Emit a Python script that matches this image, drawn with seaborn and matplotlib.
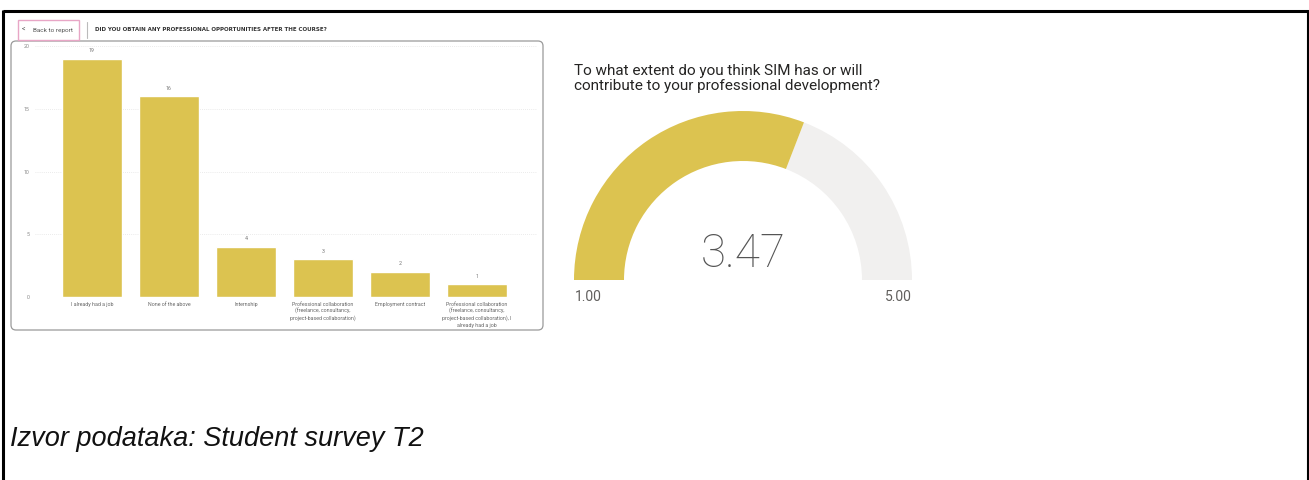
import numpy as np
import matplotlib
matplotlib.use("Agg")
import matplotlib.pyplot as plt
from matplotlib.patches import FancyBboxPatch, Wedge, Rectangle
import seaborn as sns

# ---- data ----
categories = [
    "I already had a job",
    "None of the above",
    "Internship",
    "Professional collaboration\n(freelance, consultancy,\nproject-based collaboration)",
    "Employment contract",
    "Professional collaboration\n(freelance, consultancy,\nproject-based collaboration), I\nalready had a job",
]
counts = [19, 16, 4, 3, 2, 1]
y_ticks = [0, 5, 10, 15, 20]

bar_title = "DID YOU OBTAIN ANY PROFESSIONAL OPPORTUNITIES AFTER THE COURSE?"
gauge_title = "To what extent do you think SIM has or will\ncontribute to your professional development?"
gauge_min = 1.00
gauge_max = 5.00
gauge_value = 3.47
source_text = "Izvor podataka: Student survey T2"

GOLD = "#DCC350"
LIGHT = "#F1F0EF"

W, H = 1309, 480
sns.set_theme(style="white")
plt.rcParams["font.family"] = ["Roboto", "DejaVu Sans"]

fig = plt.figure(figsize=(W / 100, H / 100), dpi=100)
fig.patch.set_facecolor("white")


def fax(x0, y0, x1, y1):
    """pixel box (top-left origin) -> figure axes rect"""
    return [x0 / W, 1 - y1 / H, (x1 - x0) / W, (y1 - y0) / H]


# overlay axes in pixel coords
ov = fig.add_axes([0, 0, 1, 1], zorder=0)
ov.set_xlim(0, W)
ov.set_ylim(H, 0)
ov.axis("off")

# page border
ov.plot([3, 3], [10, H], color="black", lw=2.2, solid_capstyle="butt")
ov.plot([3, W], [11, 11], color="black", lw=2.2, solid_capstyle="butt")
ov.plot([W - 1.5, W - 1.5], [11, H], color="black", lw=1.5, solid_capstyle="butt")

# report panel
ov.add_patch(FancyBboxPatch((11, 41), 532, 289, boxstyle="round,pad=0,rounding_size=5",
                            fc="white", ec="#9a9a9a", lw=0.9))
ov.add_patch(Rectangle((18, 20), 61, 20, fc="white", ec="#E8A6C6", lw=1.0))
ov.text(22, 30.5, "<", fontsize=5, color="#555555", va="center", ha="left")
ov.text(33, 30.5, "Back to report", fontsize=4.6, color="#555555", va="center", ha="left")
ov.plot([87, 87], [22, 38], color="#bbbbbb", lw=0.8)
ov.text(95, 29.5, bar_title, fontsize=4.0, color="#333333", va="center", ha="left",
        fontweight="bold", family=["DejaVu Sans"])

# ---- bar chart ----
ax = fig.add_axes(fax(35, 46, 537, 297), zorder=1)
ax.patch.set_alpha(0)
sns.barplot(x=list(range(len(counts))), y=counts, ax=ax, color=GOLD, width=0.77,
            saturation=1, native_scale=True)
ax.set_xlim(-0.74, 5.78)
ax.set_ylim(0, 20)
ax.set_yticks(y_ticks)
ax.set_yticklabels([str(t) for t in y_ticks], fontsize=3.8, color="#888888")
ax.set_xticks(range(len(categories)))
ax.set_xticklabels(categories, fontsize=3.8, color="#666666", linespacing=1.3, va="top")
ax.tick_params(axis="both", length=0, pad=4)
ax.tick_params(axis="x", pad=3.5)
ax.grid(axis="y", color="#e4e4e4", lw=0.6, ls=(0, (1, 1.5)))
ax.set_axisbelow(True)
for s in ax.spines.values():
    s.set_visible(False)
ax.set_xlabel("")
ax.set_ylabel("")
for i, v in enumerate(counts):
    ax.text(i, v + 0.45, str(v), ha="center", va="bottom", fontsize=3.8, color="#777777")

# ---- gauge ----
gx = fig.add_axes(fax(574, 111, 912, 280), zorder=1)
gx.set_xlim(-1, 1)
gx.set_ylim(0, 1)
gx.axis("off")
inner = 119 / 169
frac = (gauge_value - gauge_min) / (gauge_max - gauge_min)
ang = 180 - frac * 180
gx.add_patch(Wedge((0, 0), 1, 0, ang, width=1 - inner, fc=LIGHT, ec="none"))
gx.add_patch(Wedge((0, 0), 1, ang, 180, width=1 - inner, fc=GOLD, ec="none"))

ov.text(574, 64, gauge_title, fontsize=11, color="#252423", va="top", ha="left",
        linespacing=1.05)
ov.text(743, 267, f"{gauge_value:.2f}", fontsize=33, color="#555555", ha="center",
        va="baseline", fontweight="light")
ov.text(575, 301, f"{gauge_min:.2f}", fontsize=10, color="#605E5C", ha="left", va="baseline")
ov.text(912, 301, f"{gauge_max:.2f}", fontsize=10, color="#605E5C", ha="right", va="baseline")

# source note
ov.text(10, 446, source_text, fontsize=19.5, style="italic", color="#111111",
        ha="left", va="baseline", family=["Liberation Sans", "DejaVu Sans"])

fig.savefig("out.png", dpi=100, facecolor="white")
